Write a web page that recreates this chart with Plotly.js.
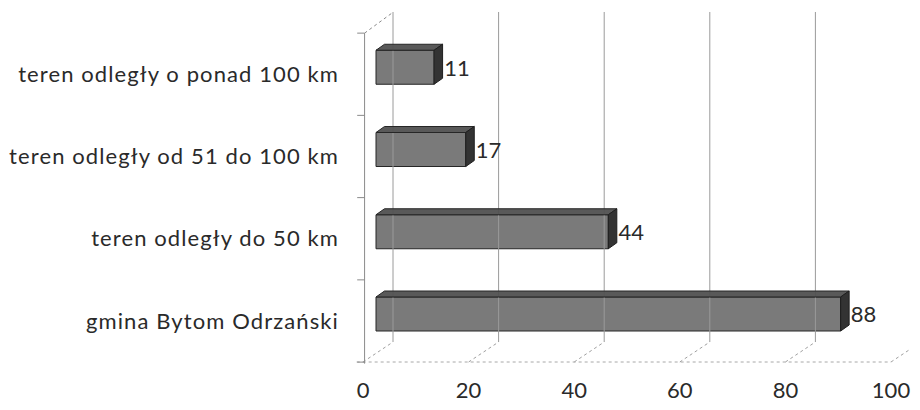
<!DOCTYPE html>
<html><head><meta charset="utf-8">
<script src="https://cdn.plot.ly/plotly-3.0.1.min.js"></script>
<style>html,body{margin:0;padding:0;background:#fff}
.ytick text{letter-spacing:1.1px}
</style>
</head><body><div id="chart" style="width:920px;height:410px"></div>
<script>
// ---- data ----
const categories = ["gmina Bytom Odrzański", "teren odległy do 50 km", "teren odległy od 51 do 100 km", "teren odległy o ponad 100 km"];
const values = [88, 44, 17, 11];
const xTicks = [0, 20, 40, 60, 80, 100];

// ---- 3D look (pixel offsets converted to data units) ----
const PX_X = 5.28, PX_Y = 82.25;
const wallDx = 30 / PX_X, wallDy = 20 / PX_Y;     // floor/wall depth
const barDx0 = 13 / PX_X, barDy0 = 7 / PX_Y;      // front face of bars
const barDx = 8.5 / PX_X, barDy = 6 / PX_Y;       // bar depth
const barH = 34 / PX_Y;
const catPos = categories.map((c, i) => i);
const yLow = -0.4985, yTop = 3.5;

const traces = [];
const grid = {color: '#9a9a9a', width: 1};
// back wall verticals + floor slants
xTicks.forEach(v => {
  if (v < 100) traces.push({x: [v + wallDx, v + wallDx], y: [yLow + wallDy, 3.757], mode: 'lines', line: grid, hoverinfo: 'skip'});
  traces.push({x: [v, v + wallDx], y: [yLow, yLow + wallDy], mode: 'lines', line: {color: '#a0a0a0', width: 1, dash: 'dot'}, hoverinfo: 'skip'});
});
// front floor edge
traces.push({x: [-1.2, 100], y: [yLow, yLow], mode: 'lines', line: {color: '#a8a8a8', width: 1, dash: 'dot'}, hoverinfo: 'skip'});
// left wall
traces.push({x: [0.3, 0.3], y: [yLow - 0.02, yTop], mode: 'lines', line: {color: '#8a8a8a', width: 1}, hoverinfo: 'skip'});
traces.push({x: [0.3, wallDx], y: [yTop, yTop + wallDy + 0.01], mode: 'lines', line: {color: '#8a8a8a', width: 1, dash: 'dot'}, hoverinfo: 'skip'});
[ -0.5, 0.5, 1.5, 2.5, 3.5 ].forEach(t => traces.push({x: [-1.1, 0.3], y: [t, t], mode: 'lines', line: {color: '#8a8a8a', width: 1}, hoverinfo: 'skip'}));

// bars: front face
traces.push({
  type: 'bar', orientation: 'h', x: values, y: catPos, base: barDx0,
  width: barH, offset: barDy0 - barH / 2,
  marker: {color: 'rgba(112,112,112,0.93)', line: {color: '#262626', width: 1}},
  hoverinfo: 'x'
});
// top and side faces
values.forEach((v, i) => {
  const x0 = barDx0, x1 = barDx0 + v;
  const yt = catPos[i] + barDy0 + barH / 2, yb = catPos[i] + barDy0 - barH / 2;
  traces.push({x: [x0, x1, x1 + barDx, x0 + barDx, x0], y: [yt, yt, yt + barDy, yt + barDy, yt],
    mode: 'lines', fill: 'toself', fillcolor: 'rgba(80,80,80,0.95)', line: {color: '#262626', width: 1}, hoverinfo: 'skip'});
  traces.push({x: [x1, x1 + barDx, x1 + barDx, x1, x1], y: [yt, yt + barDy, yb + barDy, yb, yt],
    mode: 'lines', fill: 'toself', fillcolor: '#333333', line: {color: '#1e1e1e', width: 1}, hoverinfo: 'skip'});
});
// value labels
traces.push({
  x: values.map(v => barDx0 + v + barDx + 0.3), y: catPos.map(c => c + 0.05),
  mode: 'text', text: values.map(String), textposition: 'middle right',
  textfont: {family: 'Lato, sans-serif', size: 22, color: '#2a2a2a'}, hoverinfo: 'skip', cliponaxis: false
});

const layout = {
  width: 920, height: 410,
  margin: {l: 350, r: 10, t: 5, b: 35},
  paper_bgcolor: '#fff', plot_bgcolor: '#fff',
  showlegend: false,
  xaxis: {range: [-13 / PX_X, (910 - 363) / PX_X], tickvals: xTicks, ticktext: xTicks.map(String),
    showgrid: false, zeroline: false, showline: false, ticks: '',
    tickfont: {family: 'Lato, sans-serif', size: 22, color: '#2a2a2a'}},
  yaxis: {range: [(321 - 375) / PX_Y, (321 - 5) / PX_Y], tickvals: catPos, ticktext: categories,
    showgrid: false, zeroline: false, showline: false, ticks: '', ticklabelstandoff: 10,
    tickfont: {family: 'Lato, sans-serif', size: 22, color: '#2a2a2a'}}
};
Plotly.newPlot('chart', traces, layout, {displayModeBar: false, staticPlot: true});
</script></body></html>
